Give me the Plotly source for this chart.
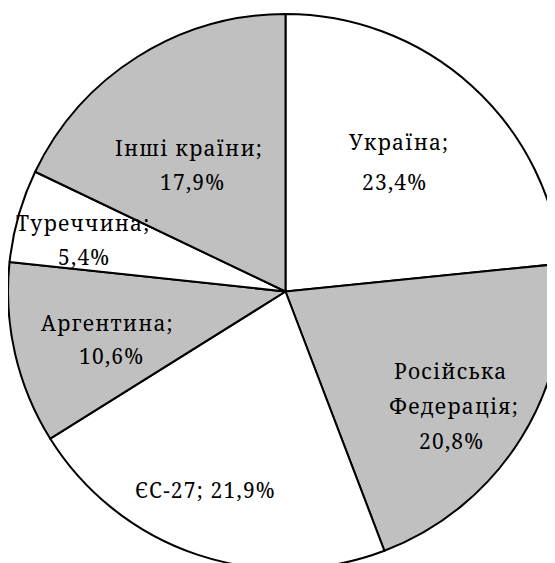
import plotly.graph_objects as go

labels = ["Україна", "Російська Федерація", "ЄС-27", "Аргентина", "Туреччина", "Інші країни"]
values = [23.4, 20.8, 21.9, 10.6, 5.4, 17.9]
colors = ["#ffffff", "#c0c0c0", "#ffffff", "#c0c0c0", "#ffffff", "#c0c0c0"]

W, H = 555, 567
OFF = 8  # page body margin

fig = go.Figure(go.Pie(
    labels=labels, values=values, sort=False, direction="clockwise", rotation=0,
    marker=dict(colors=colors, line=dict(color="black", width=2)),
    textinfo="none", hoverinfo="label+percent", showlegend=False,
    domain=dict(x=[0, 1], y=[0, 1]),
))

def pct(v):
    return f"{v:.1f}".replace(".", ",") + "%"

lab = {l: l + ";" for l in labels}
lines = [
    (lab[labels[0]], 399, 149), (pct(values[0]), 394, 189),
    ("Російська", 451, 378), ("Федерація;", 454, 413), (pct(values[1]), 451, 448),
    (lab[labels[2]] + " " + pct(values[2]), 205, 497),
    (lab[labels[3]], 107.5, 330), (pct(values[3]), 111, 363),
    (lab[labels[4]], 83, 230), (pct(values[4]), 84, 264),
    (lab[labels[5]], 188.5, 155), (pct(values[5]), 192, 189),
]
FS = 21
for txt, cx, by in lines:
    fig.add_annotation(
        x=(cx - OFF) / W, y=1 - (by - 0.34 * FS - OFF) / H,
        xref="paper", yref="paper", xanchor="center", yanchor="middle",
        text=f'<span style="letter-spacing:1.2px">{txt}</span>', showarrow=False,
        font=dict(family="Noto Serif, DejaVu Serif, serif", size=FS, color="black"),
    )

fig.update_layout(width=W, height=H, margin=dict(l=0, r=0, t=0, b=0),
                  paper_bgcolor="white", plot_bgcolor="white")
fig.write_html("out.html")
